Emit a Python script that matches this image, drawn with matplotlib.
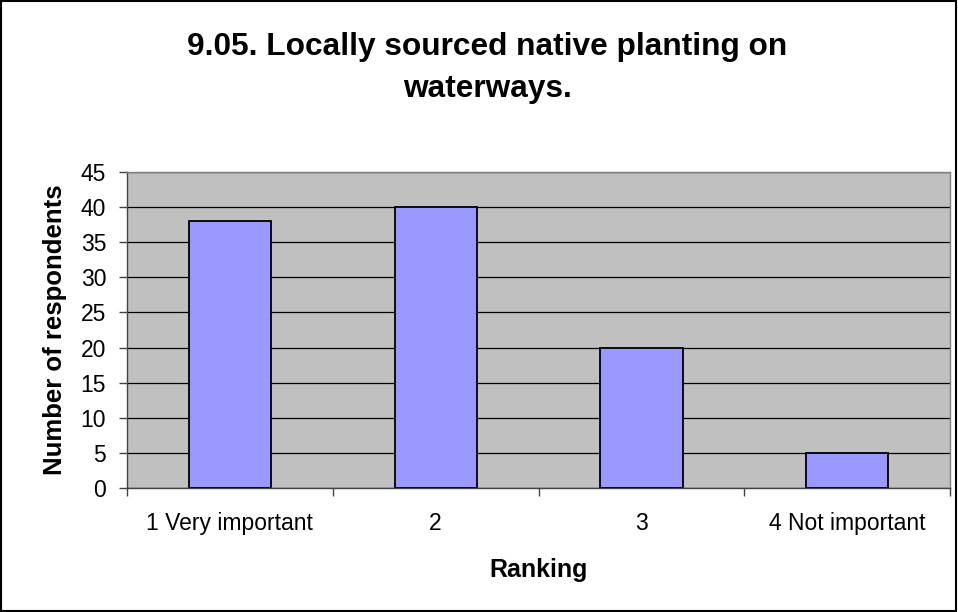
import matplotlib
matplotlib.use("Agg")
import matplotlib.pyplot as plt
import numpy as np
from matplotlib.patches import Rectangle

# ── Data ─────────────────────────────────────────────────────────────────────
categories = ["1 Very important", "2", "3", "4 Not important"]
respondents = [38, 40, 20, 5]
y_ticks = list(range(0, 50, 5))

plt.rcParams["font.family"] = ["Liberation Sans", "DejaVu Sans"]

fig = plt.figure(figsize=(9.58, 6.12), dpi=100)
ax = fig.add_axes([0.1326, 0.2026, 0.8591, 0.5164])

x = np.arange(len(categories))
ax.bar(x, respondents, width=0.40, color="#9999ff", edgecolor="black",
       linewidth=1.3, zorder=3)

ax.set_facecolor("#c0c0c0")
ax.set_xlim(-0.5, len(categories) - 0.5)
ax.set_ylim(0, 45)
ax.set_yticks(y_ticks)
ax.yaxis.grid(True, color="black", linewidth=0.9, zorder=1)
ax.set_axisbelow(True)

# category labels centred, tick marks on category boundaries
ax.set_xticks(np.arange(-0.5, len(categories)), minor=False)
ax.set_xticklabels([])
ax.set_xticks(x, minor=True)
ax.set_xticklabels(categories, minor=True, fontsize=16.5)
ax.tick_params(axis="x", which="minor", length=0, pad=17)
ax.tick_params(axis="x", which="major", length=6, width=1, color="#444")
ax.tick_params(axis="y", length=6, width=1, color="#444", labelsize=16.5, pad=9)

for side in ["top", "right"]:
    ax.spines[side].set_color("#808080")
    ax.spines[side].set_linewidth(1)
for side in ["left", "bottom"]:
    ax.spines[side].set_color("#444")
    ax.spines[side].set_linewidth(1)

ax.set_xlabel("Ranking", fontsize=18, fontweight="bold", labelpad=17)
ax.set_ylabel("Number of respondents", fontsize=18.5, fontweight="bold", labelpad=10)

fig.text(0.509, 0.889, "9.05. Locally sourced native planting on\nwaterways.",
         ha="center", va="center", fontsize=22.8, fontweight="bold",
         linespacing=1.49)

# outer chart border
fig.patches.append(Rectangle((0.001, 0.002), 0.997, 0.996, transform=fig.transFigure,
                             fill=False, edgecolor="black", linewidth=1.5))

fig.savefig("out.png", dpi=100, facecolor="white")
